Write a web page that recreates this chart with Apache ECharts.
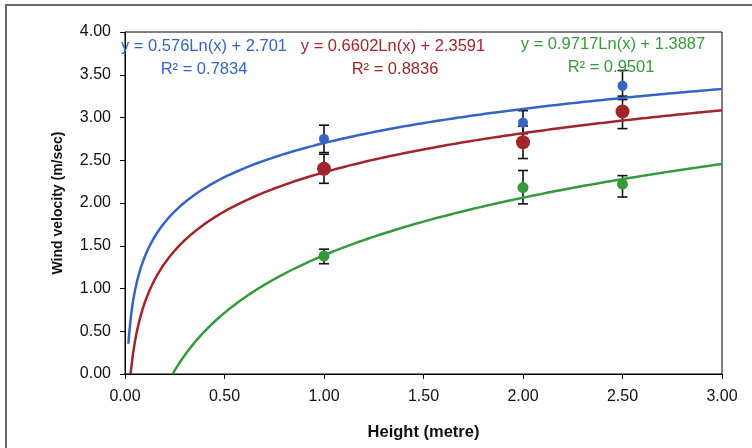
<!DOCTYPE html>
<html>
<head>
<meta charset="utf-8">
<script src="https://cdn.jsdelivr.net/npm/echarts@6/dist/echarts.min.js"></script>
<style>
  html, body { margin: 0; padding: 0; background: #fff; }
  #chart { width: 752px; height: 448px; }
</style>
</head>
<body>
<div id="chart"></div>
<script>
// Measurement heights (m)
const heights = [1.0, 2.0, 2.5];

// Mean wind velocity and error-bar limits (m/sec) for each series
const blueMean = [2.75, 2.94, 3.37];
const blueLow  = [2.59, 2.81, 3.21];
const blueHigh = [2.91, 3.08, 3.55];

const redMean = [2.40, 2.71, 3.07];
const redLow  = [2.23, 2.52, 2.87];
const redHigh = [2.57, 2.90, 3.25];

const greenMean = [1.38, 2.18, 2.22];
const greenLow  = [1.29, 1.99, 2.07];
const greenHigh = [1.46, 2.38, 2.32];

// Logarithmic trendline coefficients: y = slope * ln(x) + intercept
const fitSlope     = [0.576, 0.6602, 0.9717];
const fitIntercept = [2.701, 2.3591, 1.3887];
const fitR2        = ['0.7834', '0.8836', '0.9501'];

const seriesColors = ['#3464c4', '#a0262c', '#36993c'];

const xTicks = [0, 0.5, 1, 1.5, 2, 2.5, 3];
const yTicks = [0, 0.5, 1, 1.5, 2, 2.5, 3, 3.5, 4];

function trendPoints(k) {
  const a = fitSlope[k], b = fitIntercept[k];
  const root = Math.exp(-b / a);
  const start = Math.max(0.017, root);
  const pts = [[start, a * Math.log(start) + b]];
  for (let x = 0.02; x <= 3.0001; x += 0.01) {
    if (x > start) pts.push([x, a * Math.log(x) + b]);
  }
  return pts;
}

function zipPoints(xs, ys) { return xs.map((x, i) => [x, ys[i]]); }
function zipBars(xs, lo, hi) { return xs.map((x, i) => [x, lo[i], hi[i]]); }

function errorBarItem(params, api) {
  const x = api.value(0);
  const top = api.coord([x, api.value(2)]);
  const bot = api.coord([x, api.value(1)]);
  const hw = 5;
  const st = { stroke: '#111', lineWidth: 1.6 };
  return {
    type: 'group',
    children: [
      { type: 'line', shape: { x1: top[0], y1: top[1], x2: bot[0], y2: bot[1] }, style: st },
      { type: 'line', shape: { x1: top[0] - hw, y1: top[1], x2: top[0] + hw, y2: top[1] }, style: st },
      { type: 'line', shape: { x1: bot[0] - hw, y1: bot[1], x2: bot[0] + hw, y2: bot[1] }, style: st }
    ]
  };
}

const means = [blueMean, redMean, greenMean];
const lows = [blueLow, redLow, greenLow];
const highs = [blueHigh, redHigh, greenHigh];
const markerSizes = [10, 14, 11];

const series = [];
for (let k = 0; k < 3; k++) {
  series.push({
    type: 'custom',
    renderItem: errorBarItem,
    data: zipBars(heights, lows[k], highs[k]),
    z: 2,
    silent: true
  });
}
for (let k = 0; k < 3; k++) {
  series.push({
    type: 'scatter',
    data: zipPoints(heights, means[k]),
    symbol: 'circle',
    symbolSize: markerSizes[k],
    itemStyle: { color: seriesColors[k], opacity: 1 },
    z: 3
  });
}
for (let k = 0; k < 3; k++) {
  series.push({
    type: 'line',
    data: trendPoints(k),
    showSymbol: false,
    smooth: false,
    lineStyle: { color: seriesColors[k], width: 2.5 },
    z: 4,
    silent: true
  });
}

const fmt = v => v.toFixed(2);
const eqText = k => 'y = ' + fitSlope[k] + 'Ln(x) + ' + fitIntercept[k];

const FONT = 'Liberation Sans, Arial, sans-serif';
const labelFont = { fontFamily: FONT, fontSize: 16.5 };
const eqPos = [[204, 46, 204, 69], [393, 46, 395, 69], [613, 44, 611, 67]];
const graphics = [{
  type: 'rect',
  shape: { x: 6, y: 5, width: 800, height: 500 },
  style: { fill: 'none', stroke: '#6a6a6a', lineWidth: 2 },
  silent: true
}];
for (let k = 0; k < 3; k++) {
  const p = eqPos[k];
  graphics.push({
    type: 'text', x: p[0], y: p[1], z: 10,
    style: Object.assign({ text: eqText(k), fill: seriesColors[k], align: 'center', verticalAlign: 'middle' }, labelFont)
  });
  graphics.push({
    type: 'text', x: p[2], y: p[3], z: 10,
    style: Object.assign({ text: 'R² = ' + fitR2[k], fill: seriesColors[k], align: 'center', verticalAlign: 'middle' }, labelFont)
  });
}

const chart = echarts.init(document.getElementById('chart'), null, { renderer: 'canvas' });
chart.setOption({
  backgroundColor: '#fff',
  animation: false,
  grid: { left: 125, right: 30, top: 32, bottom: 74, show: true, borderColor: '#000', borderWidth: 1, backgroundColor: '#fff' },
  xAxis: {
    type: 'value', min: xTicks[0], max: xTicks[xTicks.length - 1], interval: 0.5,
    name: 'Height (metre)', nameLocation: 'middle', nameGap: 50,
    nameTextStyle: { fontFamily: FONT, fontSize: 16.5, fontWeight: 'bold', color: '#111' },
    axisLine: { lineStyle: { color: '#000', width: 1 } },
    axisTick: { show: true, length: 5, lineStyle: { color: '#000' } },
    axisLabel: { formatter: fmt, margin: 15, color: '#111', fontFamily: FONT, fontSize: 16 },
    splitLine: { show: false }
  },
  yAxis: {
    type: 'value', min: yTicks[0], max: yTicks[yTicks.length - 1], interval: 0.5,
    name: 'Wind velocity (m/sec)', nameLocation: 'middle', nameGap: 60,
    nameTextStyle: { fontFamily: FONT, fontSize: 14, fontWeight: 'bold', color: '#111' },
    axisLine: { show: true, lineStyle: { color: '#000', width: 1 } },
    axisTick: { show: true, length: 5, lineStyle: { color: '#000' } },
    axisLabel: { formatter: fmt, margin: 14, color: '#111', fontFamily: FONT, fontSize: 16 },
    splitLine: { show: false }
  },
  graphic: graphics,
  series: series
});
</script>
</body>
</html>
